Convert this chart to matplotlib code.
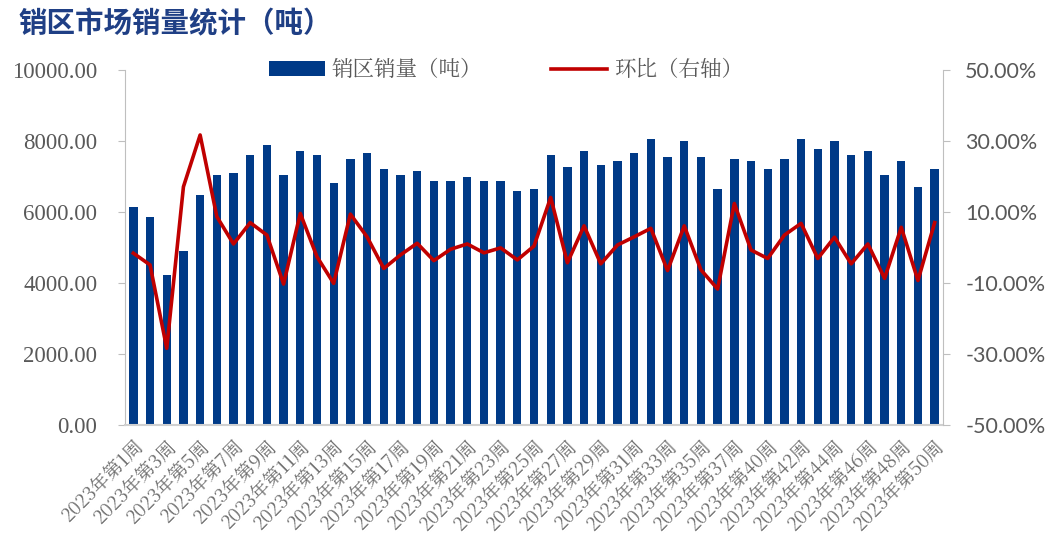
import matplotlib
matplotlib.use("Agg")
import matplotlib.pyplot as plt
from matplotlib.patches import Patch
from matplotlib.lines import Line2D
from matplotlib.ticker import FuncFormatter, FixedLocator

plt.rcParams['font.family'] = ['Noto Sans CJK SC', 'DejaVu Sans']

weeks = list(range(1, 38)) + [38] + list(range(40, 51))
categories = [f"2023年第{w}周" for w in weeks]

sales = [6130, 5850, 4220, 4900, 6470, 7040, 7110, 7615, 7890, 7040,
         7720, 7615, 6820, 7490, 7660, 7210, 7040, 7155, 6870, 6870,
         6980, 6870, 6870, 6590, 6650, 7615, 7270, 7720, 7320, 7440,
         7660, 8055, 7550, 8000, 7550, 6650, 7490, 7440, 7210, 7490,
         8055, 7775, 8000, 7615, 7720, 7040, 7440, 6700, 7210]

mom = [-1.6, -4.9, -28.4, 17.1, 31.7, 8.7, 1.0, 7.0, 3.5, -10.3,
       9.6, -2.6, -10.1, 9.4, 3.0, -5.9, -2.1, 1.2, -3.7, -0.5,
       1.0, -1.5, -0.1, -3.5, 0.4, 14.1, -4.3, 6.1, -4.6, 0.7,
       3.0, 5.4, -6.5, 6.1, -6.3, -11.7, 12.4, -0.7, -3.1, 3.5,
       6.8, -3.1, 2.9, -4.6, 1.0, -8.7, 5.7, -9.3, 7.0]

left_ticks = [0, 2000, 4000, 6000, 8000, 10000]
right_ticks = [-50, -30, -10, 10, 30, 50]

bar_color = "#003A87"
line_color = "#C00000"
text_gray = "#595959"

fig = plt.figure(figsize=(10.5, 5.59), dpi=100)
ax = fig.add_axes([125/1050, 1-425/559, (943-125)/1050, (425-70)/559])
ax2 = ax.twinx()

x = list(range(len(categories)))
ax.bar(x, sales, width=0.5, color=bar_color, zorder=2)
ax2.plot(x, mom, color=line_color, linewidth=2.6, zorder=3)

ax.set_xlim(-0.5, len(categories) - 0.5)
ax.set_ylim(0, 10000)
ax2.set_ylim(-50, 50)
ax.yaxis.set_major_locator(FixedLocator(left_ticks))
ax2.yaxis.set_major_locator(FixedLocator(right_ticks))
ax.yaxis.set_major_formatter(FuncFormatter(lambda v, p: f"{v:.2f}"))
ax2.yaxis.set_major_formatter(FuncFormatter(lambda v, p: f"{v:.2f}%"))

ax.set_xticks(x[::2])
ax.set_xticklabels(categories[::2], rotation=45, ha='right', va='top',
                   rotation_mode='anchor', fontsize=13.5, color="#6E6E6E",
                   family=['Noto Serif CJK SC', 'Noto Sans CJK SC', 'DejaVu Sans'])
ax.tick_params(axis='x', length=0, pad=8)

for a in (ax, ax2):
    for s in a.spines.values():
        s.set_visible(False)
ax.spines['left'].set_visible(True)
ax.spines['left'].set_color("#BFBFBF")
ax.spines['bottom'].set_visible(True)
ax.spines['bottom'].set_color("#D0D0D0")
ax.spines['bottom'].set_linewidth(1.5)
ax2.spines['right'].set_visible(True)
ax2.spines['right'].set_color("#BFBFBF")

ax.tick_params(axis='y', length=5, color="#BFBFBF", labelsize=16.5,
               labelcolor=text_gray, pad=15)
ax2.tick_params(axis='y', length=5, color="#BFBFBF", labelsize=15.5,
                labelcolor=text_gray, pad=11)
for lab in ax.get_yticklabels():
    lab.set_family('Liberation Serif')
for lab in ax2.get_yticklabels():
    lab.set_family('Lato')

fig.text(18/1050, 1-24/559, "销区市场销量统计（吨）", fontsize=20.5, fontweight='bold',
         color="#1F3F85", ha='left', va='center')

handles = [Patch(facecolor=bar_color, edgecolor='none'),
           Line2D([0], [0], color=line_color, linewidth=2.6)]
labels = ["销区销量（吨）", "环比（右轴）"]
fig.legend(handles, labels, loc='center', ncol=2,
           bbox_to_anchor=(506/1050, 1-70/559), frameon=False,
           handlelength=2.6, handleheight=0.65, handletextpad=0.3, columnspacing=3.2,
           prop={'size': 15.5, 'family': ['Noto Serif CJK SC', 'Noto Sans CJK SC']},
           labelcolor=text_gray)

fig.savefig("out.png", dpi=100)
